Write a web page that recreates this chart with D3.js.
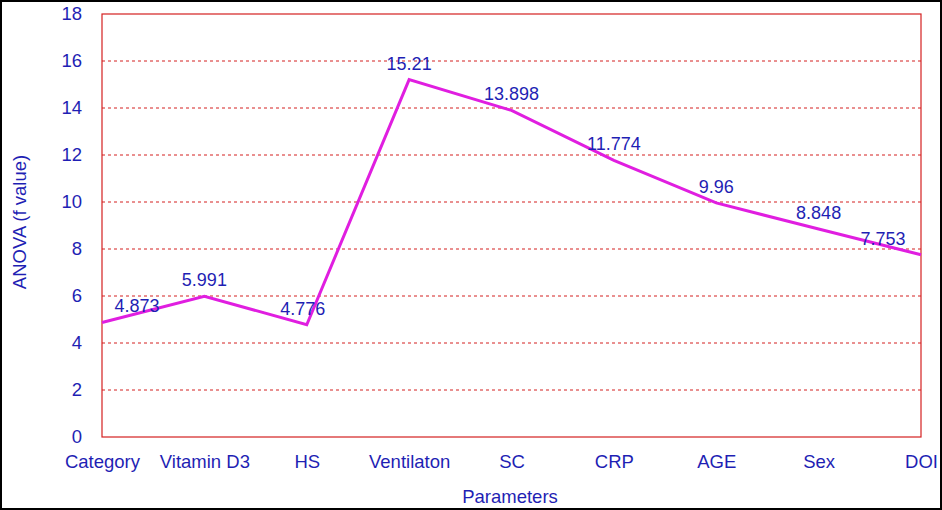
<!DOCTYPE html>
<html>
<head>
<meta charset="utf-8">
<script src="https://cdn.jsdelivr.net/npm/d3@7"></script>
<style>
  html, body { margin: 0; padding: 0; background: #fff; }
  svg { display: block; }
  text { font-family: "Liberation Sans", Arial, sans-serif; }
</style>
</head>
<body>
<svg id="chart" width="942" height="510"></svg>
<script>
const categories = ["Category", "Vitamin D3", "HS", "Ventilaton", "SC", "CRP", "AGE", "Sex", "DOI"];
const values = [4.873, 5.991, 4.776, 15.21, 13.898, 11.774, 9.96, 8.848, 7.753];
const valueLabels = ["4.873", "5.991", "4.776", "15.21", "13.898", "11.774", "9.96", "8.848", "7.753"];
const yTicks = [0, 2, 4, 6, 8, 10, 12, 14, 16, 18];
const labelShift = [35, 0, -4, 0, 0, 0, 0, 0, -38];

const W = 942, H = 510;
const m = { left: 102, top: 14, right: 21, bottom: 73 };
const svg = d3.select("#chart");
const textColor = "#1f1fb4";
const red = "#d42020";

svg.append("rect").attr("x", 1).attr("y", 1).attr("width", W - 2).attr("height", H - 2)
  .attr("fill", "#fff").attr("stroke", "#000").attr("stroke-width", 2);

const x = d3.scalePoint().domain(categories).range([m.left, W - m.right]);
const y = d3.scaleLinear().domain([0, 18]).range([H - m.bottom, m.top]);

// gridlines
svg.append("g").selectAll("line").data(yTicks.filter(t => t > 0 && t < 18)).join("line")
  .attr("x1", m.left).attr("x2", W - m.right)
  .attr("y1", d => y(d)).attr("y2", d => y(d))
  .attr("stroke", red).attr("stroke-width", 1).attr("stroke-dasharray", "3,3");

// plot border
svg.append("rect").attr("x", m.left).attr("y", y(18))
  .attr("width", W - m.right - m.left).attr("height", y(0) - y(18))
  .attr("fill", "none").attr("stroke", red).attr("stroke-width", 1.2);

// y axis labels
const yAxis = d3.axisLeft(y).tickValues(yTicks).tickSize(0).tickPadding(20);
const ya = svg.append("g").attr("transform", `translate(${m.left},0)`).call(yAxis);
ya.select(".domain").remove();
ya.selectAll("text").attr("fill", textColor).style("font-size", "18.5px")
  .style("font-family", "'Liberation Sans', Arial, sans-serif");

// x axis labels
const xAxis = d3.axisBottom(x).tickSize(0).tickPadding(18);
const xa = svg.append("g").attr("transform", `translate(0,${y(0)})`).call(xAxis);
xa.select(".domain").remove();
xa.selectAll("text").attr("fill", textColor).style("font-size", "18.5px")
  .style("font-family", "'Liberation Sans', Arial, sans-serif");

// line
const line = d3.line().x((d, i) => x(categories[i])).y(d => y(d));
svg.append("path").datum(values).attr("d", line)
  .attr("fill", "none").attr("stroke", "#e01ee0").attr("stroke-width", 3)
  .attr("stroke-linejoin", "miter");

// data labels
svg.append("g").selectAll("text").data(values).join("text")
  .attr("x", (d, i) => x(categories[i]) + labelShift[i])
  .attr("y", d => y(d) - 10)
  .attr("text-anchor", "middle")
  .attr("fill", textColor).style("font-size", "18px")
  .text((d, i) => valueLabels[i]);

// axis titles
svg.append("text").attr("x", 510).attr("y", 503).attr("text-anchor", "middle")
  .attr("fill", textColor).style("font-size", "18.5px").text("Parameters");
svg.append("text").attr("transform", "translate(26,222) rotate(-90)")
  .attr("text-anchor", "middle").attr("fill", textColor).style("font-size", "18.5px")
  .text("ANOVA (f value)");
</script>
</body>
</html>
